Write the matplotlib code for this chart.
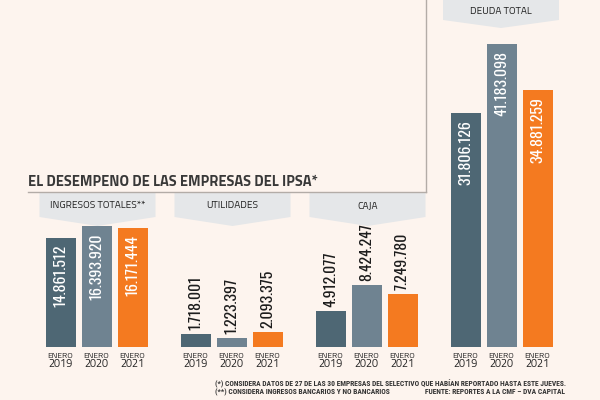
import matplotlib
matplotlib.use("Agg")
import matplotlib.pyplot as plt
from matplotlib.patches import Polygon

# ---- data ----
panels = ["INGRESOS TOTALES**", "UTILIDADES", "CAJA", "DEUDA TOTAL"]
years = ["2019", "2020", "2021"]
month = "ENERO"
values = [
    [14861512, 16393920, 16171444],
    [1718001, 1223397, 2093375],
    [4912077, 8424247, 7249780],
    [31806126, 41183098, 34881259],
]
labels_inside = [True, False, False, True]
title = "EL DESEMPENO DE LAS EMPRESAS DEL IPSA*"
note1 = "(*) CONSIDERA DATOS DE 27 DE LAS 30 EMPRESAS DEL SELECTIVO QUE HABÍAN REPORTADO HASTA ESTE JUEVES."
note2 = "(**) CONSIDERA INGRESOS BANCARIOS Y NO BANCARIOS"
source = "FUENTE: REPORTES A LA CMF – DVA CAPITAL"

# ---- style ----
bg = "#fdf4ee"
colors = ["#4e6774", "#6f8391", "#f47a20"]
hdr_col = "#e5e7e9"
line_col = "#b3aca7"
num_font = ["Oswald", "DejaVu Sans"]
txt_font = ["Titillium Web", "DejaVu Sans"]
note_font = ["Roboto Condensed", "DejaVu Sans"]

W, H = 600, 400
fig = plt.figure(figsize=(6, 4), dpi=100, facecolor=bg)

deco = fig.add_axes([0, 0, 1, 1], zorder=0)
deco.set_xlim(0, W)
deco.set_ylim(H, 0)
deco.axis("off")
deco.set_facecolor(bg)

px_per_val = 1 / 135800.0
base_px = 347
ax = fig.add_axes([0, 0, 1, 1], zorder=1)
ax.patch.set_alpha(0)
ax.set_xlim(0, W)
ax.set_ylim(-(H - base_px) / px_per_val, base_px / px_per_val)
ax.axis("off")

group_c0 = 96.5
group_step = 135.0
bar_step = 36.0
bar_w = 30.0

deco.plot([426, 426], [0, 192], color=line_col, lw=1.0)
deco.plot([28, 426], [192, 192], color=line_col, lw=1.0)
deco.text(28, 181.5, title, fontsize=10.5, fontweight="bold", color="#383838",
          family=txt_font, ha="left", va="center")

for g, (name, vals) in enumerate(zip(panels, values)):
    gc = group_c0 + g * group_step
    if g < 3:
        top, bot, tip = 193, 217, 226
        cx = gc + 1
    else:
        top, bot, tip = 0, 20, 28
        cx = gc - 0.5
    hw = 58
    poly = Polygon([(cx - hw, top), (cx + hw, top), (cx + hw, bot), (cx, tip), (cx - hw, bot)],
                   closed=True, facecolor=hdr_col, edgecolor="none")
    deco.add_patch(poly)
    deco.text(cx, (top + bot) / 2 + 1.0, name, fontsize=7.3, color="#222222",
              family=txt_font, ha="center", va="center")

    xs = [gc + (i - 1) * bar_step for i in range(3)]
    ax.bar(xs, vals, width=bar_w, color=colors, edgecolor="none")
    for i, (x, v) in enumerate(zip(xs, vals)):
        s = f"{v:,}".replace(",", ".")
        if labels_inside[g]:
            ax.annotate(s, (x, v), xytext=(0, -7), textcoords="offset pixels",
                        rotation=90, ha="center", va="top", color="white",
                        fontsize=11.4, fontweight="bold", family=num_font)
        else:
            ax.annotate(s, (x, v), xytext=(0, 4), textcoords="offset pixels",
                        rotation=90, ha="center", va="bottom", color="#1c1c1c",
                        fontsize=11.4, fontweight="bold", family=num_font)
        deco.text(x, 355.5, month, fontsize=6.0, color="#222222", family=txt_font,
                  ha="center", va="center")
        deco.text(x, 364.8, years[i], fontsize=7.8, color="#222222", family=txt_font,
                  ha="center", va="center")

deco.text(215, 384, note1, fontsize=5.4, fontweight="bold", color="#333333",
          family=note_font, ha="left", va="center")
deco.text(215, 392.5, note2, fontsize=5.4, fontweight="bold", color="#333333",
          family=note_font, ha="left", va="center")
deco.text(565, 392.5, source, fontsize=5.4, fontweight="bold", color="#333333",
          family=note_font, ha="right", va="center")

fig.savefig("out.png", dpi=100, facecolor=bg)
